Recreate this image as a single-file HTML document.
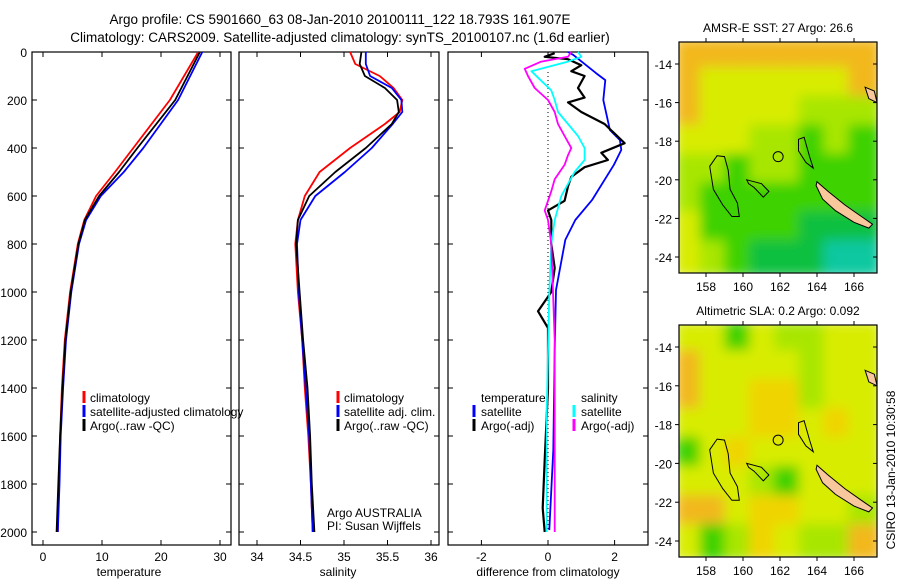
<!DOCTYPE html>
<html><head><meta charset="utf-8"><style>
body{margin:0;background:#fff;}
svg{display:block;font-family:"Liberation Sans",sans-serif;}
text{fill:#000;}
</style></head><body>
<svg id="c" width="900" height="580" xmlns="http://www.w3.org/2000/svg">
<text x="340" y="24" font-size="13.5" text-anchor="middle">Argo profile: CS 5901660_63 08-Jan-2010 20100111_122 18.793S 161.907E</text>
<text x="340" y="42" font-size="13.5" text-anchor="middle">Climatology: CARS2009. Satellite-adjusted climatology: synTS_20100107.nc (1.6d earlier)</text>
<text x="778" y="32" font-size="12" text-anchor="middle">AMSR-E SST: 27 Argo: 26.6</text>
<text x="778" y="315" font-size="12" text-anchor="middle">Altimetric SLA: 0.2 Argo: 0.092</text>
<text transform="translate(895,470) rotate(-90)" font-size="12" text-anchor="middle">CSIRO 13-Jan-2010 10:30:58</text>
</svg>
<script>
// ---------- data ----------
const depthT=[0,200,400,500,600,700,800,1000,1200,1400,1600,1800,2000];
const tempClim=[26.3,21.5,15.3,12.2,9.0,7.0,5.9,4.6,3.7,3.2,2.9,2.7,2.5];
const tempSat=[27.0,22.9,17.0,13.7,9.8,7.3,6.1,4.8,3.9,3.4,3.0,2.8,2.5];
const tempArgo=[26.6,22.4,16.0,12.9,9.5,7.1,6.0,4.7,3.8,3.3,2.9,2.6,2.3];
const depthS=[0,50,100,150,200,250,300,400,500,600,700,800,1000,1200,1400,1600,1800,2000];
const salClim=[35.07,35.13,35.41,35.57,35.67,35.64,35.47,35.07,34.72,34.55,34.47,34.44,34.47,34.52,34.55,34.59,34.62,34.64];
const salSat=[35.25,35.25,35.30,35.55,35.66,35.67,35.56,35.32,35.01,34.67,34.50,34.46,34.48,34.52,34.56,34.60,34.62,34.64];
const salArgo=[35.20,35.18,35.24,35.47,35.61,35.63,35.55,35.25,34.90,34.60,34.47,34.45,34.49,34.53,34.58,34.61,34.63,34.66];
const dTsatDepth=[0,12,88,117,200,325,367,408,470,617,700,783,992,1242,1658,1992];
const dTsat=[0.6,0.76,1.44,1.72,1.66,1.86,2.16,2.2,1.98,1.32,0.82,0.52,0.24,0.2,0.16,0.04];
const dTargoDepth=[5,20,30,55,80,100,150,190,210,250,300,340,380,420,450,480,520,560,620,660,700,800,900,1000,1080,1150,1400,1700,1900,2000];
const dTargo=[0.2,-0.1,0.6,1.0,0.7,1.1,0.9,1.1,0.6,1.0,1.7,2.0,2.3,1.6,1.8,1.1,0.7,0.6,0.5,0.0,0.1,0.1,0.2,0.1,-0.3,0.0,0.0,-0.1,-0.16,-0.1];
const dSsatDepth=[0,20,40,80,120,160,200,250,300,350,400,450,500,600,700,800,1000,1500,2000];
const dSsat=[0.9,1.0,0.6,-0.5,-0.2,0.1,0.2,0.3,0.6,0.9,1.1,1.1,0.8,0.4,0.2,0.1,0.04,-0.04,-0.04];
const dSargoDepth=[0,20,40,70,100,150,200,250,300,350,400,430,470,530,580,660,700,800,1200,1800,2000];
const dSargo=[0.7,0.6,-0.2,-0.7,-0.6,-0.4,0.0,0.2,0.3,0.5,0.7,0.6,0.5,0.2,0.1,-0.1,0.0,0.1,0.2,0.2,0.2];
const depthTicks=[0,200,400,600,800,1000,1200,1400,1600,1800,2000];
const tempTicks=[0,10,20,30];
const salTicks=[34,34.5,35,35.5,36];
const salTickLabels=["34","34.5","35","35.5","36"];
const diffTicks=[-2,0,2];
const lonTicks=[158,160,162,164,166];
const latTicks=[-14,-16,-18,-20,-22,-24];
const sstGrid=["OOOOOOOO","OYYYYYYO","OYYYYLLL","YYYLLGLG","LLGLLGGG","LGGGGGGG","YGGGGDDD","YLGDDDTT"];
const slaGrid=["YYGYLLYY","OYYYYLYY","OYYooLYY","YYYooYoY","GYoYYYYY","YYYLGYYY","OOYooYYL","YGLoYLLO"];
const chesterfield=[[158.6,-18.75],[159.0,-18.8],[159.2,-19.5],[159.3,-20.5],[159.7,-21.2],[159.8,-21.9],[159.4,-21.9],[158.9,-21.3],[158.4,-20.5],[158.2,-19.3]];
const bellona=[[160.2,-20.0],[161.0,-20.2],[161.4,-20.6],[161.1,-20.9],[160.6,-20.4],[160.3,-20.2]];
const reefNorth=[[163.0,-17.9],[163.3,-17.8],[163.6,-18.8],[163.8,-19.4],[163.4,-19.1],[163.0,-18.5]];
const newCaledonia=[[164.0,-20.1],[164.6,-20.6],[165.5,-21.3],[166.4,-21.9],[167.0,-22.3],[166.8,-22.5],[166.0,-22.2],[165.0,-21.6],[164.3,-21.0],[163.95,-20.3]];
const vanuatu=[[166.6,-15.2],[167.1,-15.4],[167.25,-16.0],[166.8,-15.8]];
const argoLon=161.9, argoLat=-18.8;
// ---------- helpers ----------
const NS="http://www.w3.org/2000/svg";
const svg=document.getElementById('c');
function mk(tag,attrs){const e=document.createElementNS(NS,tag);for(const k in attrs)e.setAttribute(k,attrs[k]);svg.appendChild(e);return e;}
const yD=d=>52+0.24*d;
const PT={x0:32,x1:231,sx:v=>43+5.9*v};
const PS={x0:239,x1:439,sx:v=>257+87*(v-34)};
const PD={x0:448,x1:648,sx:v=>548+33.3*v};
function frame(p,name){
  const r=mk('rect',{x:p.x0,y:52,width:p.x1-p.x0,height:493,fill:'none',stroke:'#000','stroke-width':1.2});
  
  
  depthTicks.forEach(d=>{
    const t1=mk('line',{x1:p.x0,x2:p.x0+5,y1:yD(d),y2:yD(d),stroke:'#000'});
    
    
    const t2=mk('line',{x1:p.x1,x2:p.x1-5,y1:yD(d),y2:yD(d),stroke:'#000'});
    
    
  });
}
function xticks(p,ticks,labels){
  ticks.forEach((v,i)=>{
    const x=p.sx(v);
    const a=mk('line',{x1:x,x2:x,y1:545,y2:540,stroke:'#000'});
    
    
    const b=mk('line',{x1:x,x2:x,y1:52,y2:57,stroke:'#000'});
    
    
    const t=mk('text',{x:x,y:561,'font-size':12,'text-anchor':'middle'});
    t.textContent=labels?labels[i]:String(v);
    
    
  });
}
function line(p,xs,ds,color,name,w){
  const pts=xs.map((v,i)=>p.sx(v).toFixed(1)+','+yD(ds[i]).toFixed(1)).join(' ');
  const e=mk('polyline',{points:pts,fill:'none',stroke:color,'stroke-width':w||1.8,'stroke-linejoin':'round'});
  
  
}
function txt(x,y,s,name,size,anchor){
  const t=mk('text',{x:x,y:y,'font-size':size||12,'text-anchor':anchor||'start'});
  t.textContent=s;
  
  
}
function legBar(x,y,color){
  const r=mk('rect',{x:x-1.5,y:y-11,width:3,height:12,fill:color});
  
  
}
// ---------- profile panels ----------
frame(PT,'temperature-panel');frame(PS,'salinity-panel');frame(PD,'difference-panel');
depthTicks.forEach(d=>txt(27,yD(d)+5,String(d),'depth-tick-label',12,'end'));
xticks(PT,tempTicks);xticks(PS,salTicks,salTickLabels);xticks(PD,diffTicks);
txt(129,576,'temperature','temperature-axis-title',12,'middle');
txt(338,576,'salinity','salinity-axis-title',12,'middle');
txt(548,576,'difference from climatology','difference-axis-title',12,'middle');
line(PT,tempClim,depthT,'#f00','temp-climatology-line');
line(PT,tempSat,depthT,'#00f','temp-satellite-line');
line(PT,tempArgo,depthT,'#000','temp-argo-line');
line(PS,salClim,depthS,'#f00','sal-climatology-line');
line(PS,salSat,depthS,'#00f','sal-satellite-line');
line(PS,salArgo,depthS,'#000','sal-argo-line');
const zl=mk('line',{x1:548,x2:548,y1:72,y2:532,stroke:'#000','stroke-dasharray':'1,3'});


line(PD,dTsat,dTsatDepth,'#00f','diff-temp-satellite-line');
line(PD,dTargo,dTargoDepth,'#000','diff-temp-argo-line',2.2);
line(PD,dSsat,dSsatDepth,'#0ff','diff-sal-satellite-line');
line(PD,dSargo,dSargoDepth,'#f0f','diff-sal-argo-line');
// legends
[['climatology','#f00'],['satellite-adjusted climatology','#00f'],['Argo(..raw -QC)','#000']].forEach((l,i)=>{legBar(84,402+i*14,l[1]);txt(90,402+i*14,l[0],'legend-entry');});
[['climatology','#f00'],['satellite adj. clim.','#00f'],['Argo(..raw -QC)','#000']].forEach((l,i)=>{legBar(338,402+i*14,l[1]);txt(344,402+i*14,l[0],'legend-entry');});
txt(481,402,'temperature','legend-heading');txt(581,402,'salinity','legend-heading');
legBar(474,416,'#00f');txt(481,416,'satellite','legend-entry');
legBar(474,430,'#000');txt(481,430,'Argo(-adj)','legend-entry');
legBar(574,416,'#0ff');txt(581,416,'satellite','legend-entry');
legBar(574,430,'#f0f');txt(581,430,'Argo(-adj)','legend-entry');
txt(327,517,'Argo AUSTRALIA','argo-australia-label');
txt(327,530,'PI: Susan Wijffels','pi-label');
// ---------- maps ----------
const defs=document.createElementNS(NS,'defs');
defs.innerHTML='<filter id="bl" x="0" y="0" width="1" height="1"><feGaussianBlur stdDeviation="6"/></filter><clipPath id="c1"><rect x="679" y="42" width="198" height="231"/></clipPath><clipPath id="c2"><rect x="679" y="325" width="198" height="232"/></clipPath>';
svg.appendChild(defs);
const COL={O:'#f2b81a',Y:'#d8ec00',L:'#a8e600',G:'#3cd200',D:'#10c040',T:'#10c8a0',o:'#f0d400'};
function map(top,bot,grid,clip,name){
  const lonX=l=>706+(l-158)*18.5;
  const latY=la=>top+22+(-14-la)*((bot-top-38)/10);
  const g=document.createElementNS(NS,'g');g.setAttribute('clip-path','url(#'+clip+')');svg.appendChild(g);
  
  
  const gb=document.createElementNS(NS,'g');gb.setAttribute('filter','url(#bl)');g.appendChild(gb);
  const w=198/8,h=(bot-top)/8;
  const bg=document.createElementNS(NS,'rect');bg.setAttribute('x',679);bg.setAttribute('y',top);bg.setAttribute('width',198);bg.setAttribute('height',bot-top);bg.setAttribute('fill','#c8e800');gb.appendChild(bg);
  grid.forEach((row,r)=>row.split('').forEach((c,k)=>{
    const e=document.createElementNS(NS,'rect');
    e.setAttribute('x',679+k*w-4);e.setAttribute('y',top+r*h-4);e.setAttribute('width',w+8);e.setAttribute('height',h+8);e.setAttribute('fill',COL[c]);
    
    
    gb.appendChild(e);
  }));
  const poly=(pts,fill,nm)=>{
    const e=document.createElementNS(NS,'polygon');
    e.setAttribute('points',pts.map(p=>lonX(p[0]).toFixed(1)+','+latY(p[1]).toFixed(1)).join(' '));
    e.setAttribute('fill',fill);e.setAttribute('stroke','#000');e.setAttribute('stroke-width',1);
    
    
    g.appendChild(e);
  };
  poly(chesterfield,'none','chesterfield-reef');poly(bellona,'none','bellona-reef');poly(reefNorth,'none','north-reef');
  poly(newCaledonia,'#f8c89c','new-caledonia');poly(vanuatu,'#f8c89c','vanuatu-island');
  const ci=document.createElementNS(NS,'circle');
  ci.setAttribute('cx',lonX(argoLon));ci.setAttribute('cy',latY(argoLat));ci.setAttribute('r',5);ci.setAttribute('fill','none');ci.setAttribute('stroke','#000');
  
  
  g.appendChild(ci);
  const fr=mk('rect',{x:679,y:top,width:198,height:bot-top,fill:'none',stroke:'#000','stroke-width':1.2});
  
  
  lonTicks.forEach(l=>{
    const x=lonX(l);
    const a=mk('line',{x1:x,x2:x,y1:bot,y2:bot+4,stroke:'#000'});
    
    
    const b=mk('line',{x1:x,x2:x,y1:top,y2:top-4,stroke:'#000'});
    
    
    txt(x,bot+18,String(l),'lon-tick-label',12,'middle');
  });
  latTicks.forEach(la=>{
    const y=latY(la);
    const a=mk('line',{x1:679,x2:675,y1:y,y2:y,stroke:'#000'});
    
    
    const b=mk('line',{x1:877,x2:873,y1:y,y2:y,stroke:'#000'});
    
    
    txt(672,y+5,String(la),'lat-tick-label',12,'end');
  });
}
map(42,273,sstGrid,'c1','sst-map');
map(325,557,slaGrid,'c2','sla-map');
</script>
</body></html>
